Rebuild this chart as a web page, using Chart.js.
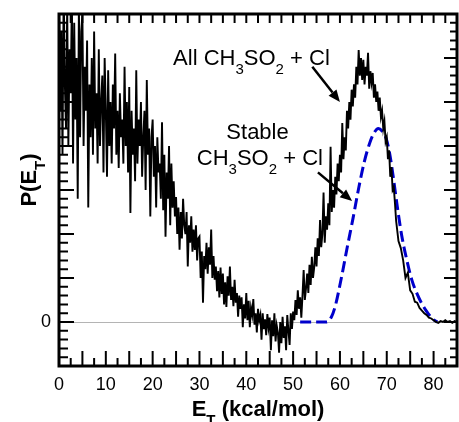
<!DOCTYPE html>
<html>
<head>
<meta charset="utf-8">
<script src="https://cdn.jsdelivr.net/npm/chart.js@4.4.0/dist/chart.umd.min.js"></script>
<style>
html, body { margin: 0; padding: 0; background: #fff; }
</style>
</head>
<body>
<canvas id="petChart" width="459" height="422"></canvas>
<script>
// Translational energy axis (kcal/mol) for the measured distribution
const allEt = [
  0, 0.25, 0.5, 0.75, 1, 1.25, 1.5, 1.75, 2, 2.25, 2.5, 2.75, 3, 3.25, 3.5, 3.75, 4, 4.25, 4.5, 4.75,
  5, 5.25, 5.5, 5.75, 6, 6.25, 6.5, 6.75, 7, 7.25, 7.5, 7.75, 8, 8.25, 8.5, 8.75, 9, 9.25, 9.5, 9.75,
  10, 10.25, 10.5, 10.75, 11, 11.25, 11.5, 11.75, 12, 12.25, 12.5, 12.75, 13, 13.25, 13.5, 13.75, 14, 14.25, 14.5, 14.75,
  15, 15.25, 15.5, 15.75, 16, 16.25, 16.5, 16.75, 17, 17.25, 17.5, 17.75, 18, 18.25, 18.5, 18.75, 19, 19.25, 19.5, 19.75,
  20, 20.25, 20.5, 20.75, 21, 21.25, 21.5, 21.75, 22, 22.25, 22.5, 22.75, 23, 23.25, 23.5, 23.75, 24, 24.25, 24.5, 24.75,
  25, 25.25, 25.5, 25.75, 26, 26.25, 26.5, 26.75, 27, 27.25, 27.5, 27.75, 28, 28.25, 28.5, 28.75, 29, 29.25, 29.5, 29.75,
  30, 30.25, 30.5, 30.75, 31, 31.25, 31.5, 31.75, 32, 32.25, 32.5, 32.75, 33, 33.25, 33.5, 33.75, 34, 34.25, 34.5, 34.75,
  35, 35.25, 35.5, 35.75, 36, 36.25, 36.5, 36.75, 37, 37.25, 37.5, 37.75, 38, 38.25, 38.5, 38.75, 39, 39.25, 39.5, 39.75,
  40, 40.25, 40.5, 40.75, 41, 41.25, 41.5, 41.75, 42, 42.25, 42.5, 42.75, 43, 43.25, 43.5, 43.75, 44, 44.25, 44.5, 44.75,
  45, 45.25, 45.5, 45.75, 46, 46.25, 46.5, 46.75, 47, 47.25, 47.5, 47.75, 48, 48.25, 48.5, 48.75, 49, 49.25, 49.5, 49.75,
  50, 50.25, 50.5, 50.75, 51, 51.25, 51.5, 51.75, 52, 52.25, 52.5, 52.75, 53, 53.25, 53.5, 53.75, 54, 54.25, 54.5, 54.75,
  55, 55.25, 55.5, 55.75, 56, 56.25, 56.5, 56.75, 57, 57.25, 57.5, 57.75, 58, 58.25, 58.5, 58.75, 59, 59.25, 59.5, 59.75,
  60, 60.25, 60.5, 60.75, 61, 61.25, 61.5, 61.75, 62, 62.25, 62.5, 62.75, 63, 63.25, 63.5, 63.75, 64, 64.25, 64.5, 64.75,
  65, 65.25, 65.5, 65.75, 66, 66.25, 66.5, 66.75, 67, 67.25, 67.5, 67.75, 68, 68.25, 68.5, 68.75, 69, 69.25, 69.5, 69.75,
  70, 70.25, 70.5, 70.75, 71, 71.25, 71.5, 71.75,
  72, 72.5, 73, 73.5, 74, 74.5, 75, 75.5, 76, 76.5, 77, 77.5, 78, 78.5, 79, 79.5,
  80, 80.5, 81, 81.5, 82, 82.5, 83, 83.5, 84, 84.5, 85
];
// P(E_T) for all CH3SO2 + Cl (arbitrary units)
const allP = [
  37, 24, 33, 19, 38, 27, 22, 36, 20, 31, 26, 37, 18, 34, 23, 30, 14, 36, 21, 33,
  35, 20, 29, 24, 32, 13, 27, 21, 30, 19, 33, 22, 26, 18, 31, 20, 25, 28, 17, 30,
  24, 16.5, 28.6, 20, 25, 18, 27, 22, 30.5, 19, 24, 17.5, 26, 21, 23, 18, 29, 20, 25, 17,
  26.7, 12.4, 24, 19, 22, 16, 28.6, 18, 23, 20, 25, 16.5, 21, 24, 15, 27.5, 19, 22, 12, 21,
  23, 16.5, 20, 13, 21, 17, 18, 14, 22.7, 12.7, 19, 9.7, 17, 14, 20, 11, 18, 13, 16, 12,
  14.2, 10, 13, 8.2, 12.5, 9.5, 14, 11, 10, 12.5, 6.3, 11, 9, 12, 8, 10.5, 8.2, 11, 7, 9.5,
  9.7, 5, 8, 2.2, 7.5, 6, 9, 5.5, 8.5, 6.5, 10.5, 5, 7.5, 4.8, 6.3, 3.5, 5.8, 2.8, 6.2, 3.2,
  5.5, 2, 4.5, 1.7, 5.2, 3, 6.3, 2.5, 4, 1.8, 4.8, 2.2, 3.3, 0.6, 3, 1.5, 2.8, -0.6, 2, 0.4,
  3.3, 0.2, 2.4, -0.6, 1.6, 0.8, 2.6, -0.3, 1, -1.2, 1.5, 0.2, 0.8, -2, 1, -0.8, 0.3, -1.5, 0.9, -0.6,
  0.5, -3.2, 0.2, -1.6, 1, -2.2, -0.4, -1.2, -3.5, 0, -2.4, 0.6, -1.8, -0.5, -3.2, 0.8, -1, -2.6, 1, -0.8,
  1.2, 0.2, 2.5, 0.8, 3.6, 1.5, 2.8, 0.5, 3, 5.9, 2.5, 3.8, 5.5, 3.3, 6.5, 4.2, 7.4, 5, 6.2, 8.5,
  6.3, 9.5, 7.5, 11.6, 8.5, 10, 14.7, 9, 12, 10.5, 13.5, 11, 19.9, 12.5, 15, 13, 16.5, 14.5, 18, 16,
  19, 17, 22.6, 18.5, 21, 19.5, 24, 22, 25, 23, 26.4, 24.5, 27, 25.5, 29, 27, 30.9, 28, 30, 27.5,
  29.8, 27, 29, 28, 30.6, 26.5, 28.5, 27.2, 28.3, 25.5, 27, 25, 26.2, 24, 25.5, 23.3, 24, 22, 22.8, 20.5,
  21, 18.5, 19.5, 16.5, 17.6, 15, 15.3, 13.5,
  11.5, 9.2, 8.4, 7, 5, 5.6, 3.6, 3.2, 2.3, 2.2, 1.6, 1.3, 1, 0.8, 0.5, 0.4,
  0.2, 0, -0.1, 0.1, 0, 0.2, 0, 0.1, -0.1, 0.1, 0
];
// Stable CH3SO2 + Cl (dashed blue fit)
const stableEt = [51.5, 57.2, 58.2, 59, 60.3, 61.6, 62.8, 64, 65.2, 66.4, 67.4, 68.2, 69, 69.9, 70.6, 71.3, 72.2, 73.2, 74.3, 75.4, 76.9, 78.4, 79.7, 80.8];
const stableP = [0, 0, 0.6, 1.8, 5, 8.6, 11.8, 15.2, 18.2, 20.4, 21.6, 22, 21.7, 20.8, 19.2, 16.8, 13.3, 9.8, 7, 4.7, 2.7, 1.3, 0.4, 0];

const xTicks = [0, 10, 20, 30, 40, 50, 60, 70, 80];
const yTicks = [0];

const FONT = '"Liberation Sans", Arial, Helvetica, sans-serif';

// text with subscripts, centred on cx
function drawSubText(ctx, parts, cx, base, size, bold) {
  const big = (bold ? 'bold ' : '') + size + 'px ' + FONT;
  const small = (bold ? 'bold ' : '') + Math.round(size * 0.68) + 'px ' + FONT;
  let w = 0;
  parts.forEach(([t, s]) => { ctx.font = s ? small : big; w += ctx.measureText(t).width; });
  let x = cx - w / 2;
  ctx.textAlign = 'left';
  ctx.textBaseline = 'alphabetic';
  parts.forEach(([t, s]) => {
    ctx.font = s ? small : big;
    ctx.fillText(t, x, base + (s ? size * 0.4 : 0));
    x += ctx.measureText(t).width;
  });
}

function drawArrow(ctx, x1, y1, x2, y2) {
  const ang = Math.atan2(y2 - y1, x2 - x1);
  const hl = 12, hw = 5;
  const bx = x2 - hl * Math.cos(ang), by = y2 - hl * Math.sin(ang);
  ctx.lineWidth = 2.5;
  ctx.beginPath();
  ctx.moveTo(x1, y1);
  ctx.lineTo(bx, by);
  ctx.stroke();
  ctx.beginPath();
  ctx.moveTo(x2, y2);
  ctx.lineTo(bx + hw * Math.sin(ang), by - hw * Math.cos(ang));
  ctx.lineTo(bx - hw * Math.sin(ang), by + hw * Math.cos(ang));
  ctx.closePath();
  ctx.fill();
}

const framePlugin = {
  id: 'frame',
  beforeDatasetsDraw(chart) {
    const {ctx, chartArea: a, scales: {y}} = chart;
    const y0 = Math.round(y.getPixelForValue(0)) + 0.5;
    ctx.save();
    ctx.strokeStyle = '#b4b4b4';
    ctx.lineWidth = 1;
    ctx.beginPath();
    ctx.moveTo(a.left, y0);
    ctx.lineTo(a.right, y0);
    ctx.stroke();
    ctx.restore();
  },
  afterDraw(chart) {
    const {ctx, chartArea: a, scales: {x, y}} = chart;
    ctx.save();
    ctx.strokeStyle = '#000';
    ctx.fillStyle = '#000';
    ctx.lineWidth = 2;
    ctx.beginPath();
    // bottom and top ticks every 2.5
    for (let v = 2.5; v < x.max; v += 2.5) {
      const px = x.getPixelForValue(v);
      const long = v % 5 === 0;
      ctx.moveTo(px, a.bottom);
      ctx.lineTo(px, a.bottom - (long ? 15 : 8));
      ctx.moveTo(px, a.top);
      ctx.lineTo(px, a.top + 9);
    }
    // left and right ticks every 1
    for (let v = y.min + 1; v < y.max; v += 1) {
      const py = y.getPixelForValue(v);
      const long = v % 5 === 0;
      ctx.moveTo(a.left, py);
      ctx.lineTo(a.left + (long ? 15 : 9), py);
      ctx.moveTo(a.right, py);
      ctx.lineTo(a.right - (long ? 13 : 7), py);
    }
    ctx.stroke();
    ctx.lineWidth = 3;
    ctx.strokeRect(a.left, a.top, a.right - a.left, a.bottom - a.top);

    // annotations
    const X = v => x.getPixelForValue(v), Y = v => y.getPixelForValue(v);
    drawSubText(ctx, [['All CH', 0], ['3', 1], ['SO', 0], ['2', 1], [' + Cl', 0]], X(41.1), Y(29.2), 22, false);
    drawSubText(ctx, [['Stable', 0]], X(42.4), Y(20.8), 22, false);
    drawSubText(ctx, [['CH', 0], ['3', 1], ['SO', 0], ['2', 1], [' + Cl', 0]], X(42.9), Y(17.8), 22, false);
    drawArrow(ctx, X(54.1), Y(29.0), X(60.0), Y(25.0));
    drawArrow(ctx, X(55.3), Y(17.0), X(62.6), Y(13.75));

    // axis titles
    drawSubText(ctx, [['E', 0], ['T', 1], [' (kcal/mol)', 0]], (a.left + a.right) / 2, 416, 22, true);
    ctx.translate(36, 180);
    ctx.rotate(-Math.PI / 2);
    drawSubText(ctx, [['P(E', 0], ['T', 1], [')', 0]], 0, 0, 22, true);
    ctx.restore();
  }
};

const ctx = document.getElementById('petChart').getContext('2d');
const petChart = new Chart(ctx, {
  type: 'line',
  data: {
    datasets: [
      {
        label: 'All CH3SO2 + Cl',
        data: allEt.map((e, i) => ({x: e, y: allP[i]})),
        borderColor: '#000',
        borderWidth: 1.9,
        pointRadius: 0,
        tension: 0
      },
      {
        label: 'Stable CH3SO2 + Cl',
        data: stableEt.map((e, i) => ({x: e, y: stableP[i]})),
        borderColor: '#0000cc',
        borderWidth: 3,
        borderDash: [11, 5],
        pointRadius: 0,
        cubicInterpolationMode: 'monotone'
      }
    ]
  },
  options: {
    responsive: false,
    animation: false,
    devicePixelRatio: 1,
    layout: {padding: {top: 14, right: 2, left: 0, bottom: 0}},
    plugins: {legend: {display: false}, tooltip: {enabled: false}},
    scales: {
      x: {
        type: 'linear',
        min: 0,
        max: 85,
        grid: {display: false},
        border: {display: false},
        afterBuildTicks: s => { s.ticks = xTicks.map(v => ({value: v})); },
        afterFit: s => { s.height = 56; },
        ticks: {color: '#000', font: {size: 18, family: FONT}, padding: 0, maxRotation: 0, autoSkip: false}
      },
      y: {
        type: 'linear',
        min: -5,
        max: 35,
        grid: {display: false},
        border: {display: false},
        afterBuildTicks: s => { s.ticks = yTicks.map(v => ({value: v})); },
        afterFit: s => { s.width = 59; },
        ticks: {color: '#000', font: {size: 18, family: FONT}, padding: 0}
      }
    }
  },
  plugins: [framePlugin]
});
</script>
</body>
</html>
